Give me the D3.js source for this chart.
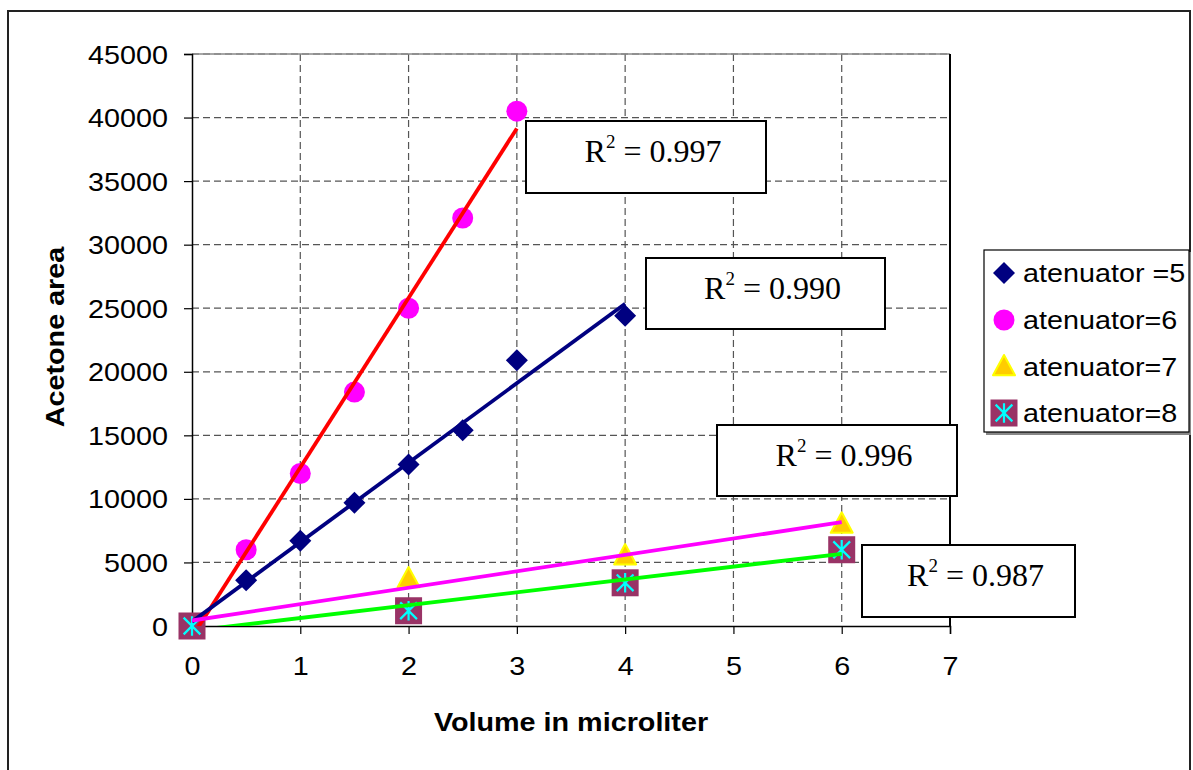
<!DOCTYPE html>
<html>
<head>
<meta charset="utf-8">
<script src="https://cdn.jsdelivr.net/npm/d3@7"></script>
<style>
  html, body { margin: 0; padding: 0; background: #fff; }
  svg { display: block; }
  .sans { font-family: "Liberation Sans", Arial, sans-serif; }
  .serif { font-family: "Liberation Serif", "Times New Roman", serif; }
</style>
</head>
<body>
<svg id="chart" width="1193" height="770"></svg>
<script>
// Calibration runs: acetone peak area vs injected volume, per attenuator setting
const xTicks = [0, 1, 2, 3, 4, 5, 6, 7];
const yTicks = [0, 5000, 10000, 15000, 20000, 25000, 30000, 35000, 40000, 45000];

const att5X = [0, 0.5, 1, 1.5, 2, 2.5, 3, 4];
const att5Y = [0, 3600, 6700, 9700, 12700, 15400, 20900, 24400];

const att6X = [0, 0.5, 1, 1.5, 2, 2.5, 3];
const att6Y = [0, 6000, 12000, 18400, 25000, 32100, 40500];

const att7X = [0, 2, 4, 6];
const att7Y = [0, 3700, 5500, 8000];

const att8X = [0, 2, 4, 6];
const att8Y = [0, 1200, 3400, 6000];

const seriesNames = ["atenuator =5", "atenuator=6", "atenuator=7", "atenuator=8"];
const rSquaredLabels = ["0.990", "0.997", "0.996", "0.987"];

// the sans-serif labels are set slightly wide
const WIDE = 1.15;

const svg = d3.select("#chart");

// outer chart frame
svg.append("rect")
  .attr("x", 8).attr("y", 11).attr("width", 1182).attr("height", 780)
  .attr("fill", "none").attr("stroke", "#222").attr("stroke-width", 2);

const plot = { left: 192, right: 950, top: 54, bottom: 626 };
const x = d3.scaleLinear().domain([0, 7]).range([plot.left, plot.right]);
const y = d3.scaleLinear().domain([0, 45000]).range([plot.bottom, plot.top]);

// dashed grid
const grid = svg.append("g");
grid.selectAll("line.h").data(yTicks.filter(d => d > 0)).join("line")
  .attr("x1", plot.left).attr("x2", plot.right)
  .attr("y1", d => y(d)).attr("y2", d => y(d))
  .attr("stroke", "#555").attr("stroke-width", 1.2).attr("stroke-dasharray", "7,4");
grid.selectAll("line.v").data(xTicks.filter(d => d > 0 && d < 7)).join("line")
  .attr("x1", d => x(d)).attr("x2", d => x(d))
  .attr("y1", plot.top).attr("y2", plot.bottom)
  .attr("stroke", "#555").attr("stroke-width", 1.2).attr("stroke-dasharray", "7,4");

// plot area border (top grey, right black)
svg.append("line").attr("x1", plot.left).attr("x2", plot.right)
  .attr("y1", plot.top).attr("y2", plot.top)
  .attr("stroke", "#888").attr("stroke-width", 1.5);
svg.append("line").attr("x1", plot.right).attr("x2", plot.right)
  .attr("y1", plot.top).attr("y2", plot.bottom)
  .attr("stroke", "#000").attr("stroke-width", 2);

// axes
const yAxis = d3.axisLeft(y).tickValues(yTicks).tickSize(8).tickPadding(14).tickFormat(d3.format("d"));
const xAxis = d3.axisBottom(x).tickValues(xTicks).tickSize(8).tickPadding(14).tickFormat(d3.format("d"));

const gy = svg.append("g").attr("transform", `translate(${plot.left},0)`).call(yAxis);
const gx = svg.append("g").attr("transform", `translate(0,${plot.bottom})`).call(xAxis);
[gx, gy].forEach(g => {
  g.select(".domain").attr("stroke", "#000").attr("stroke-width", 1.5);
  g.selectAll(".tick line").attr("stroke", "#000").attr("stroke-width", 1.2);
  g.selectAll(".tick text").attr("class", "sans").attr("font-size", 25).attr("fill", "#000")
    .attr("transform", `scale(${WIDE},1)`);
});
gy.selectAll(".tick text").attr("x", -24 / WIDE).attr("dy", "0.36em");
gx.selectAll(".tick text").attr("dy", "1.1em");

// axis titles
svg.append("text").attr("class", "sans")
  .attr("transform", `translate(571,731) scale(${WIDE},1)`).attr("text-anchor", "middle")
  .attr("font-size", 25).attr("font-weight", "bold").text("Volume in microliter");
svg.append("text").attr("class", "sans")
  .attr("transform", `translate(64,337) rotate(-90) scale(${WIDE},1)`).attr("text-anchor", "middle")
  .attr("font-size", 25).attr("font-weight", "bold").text("Acetone area");

// marker drawing helpers
const diamond = (g, cx, cy, s) => g.append("path")
  .attr("d", `M${cx},${cy - s}L${cx + s},${cy}L${cx},${cy + s}L${cx - s},${cy}Z`)
  .attr("fill", "#000080");
const circle = (g, cx, cy, r) => g.append("circle")
  .attr("cx", cx).attr("cy", cy).attr("r", r).attr("fill", "#FF00FF");
const triangle = (g, cx, cy, s) => g.append("path")
  .attr("d", `M${cx},${cy - s}L${cx + s},${cy + s * 0.85}L${cx - s},${cy + s * 0.85}Z`)
  .attr("fill", "#FFCC00").attr("stroke", "#FFFF00").attr("stroke-width", 2).attr("stroke-linejoin", "round");
const starSquare = (g, cx, cy, h) => {
  g.append("rect").attr("x", cx - h).attr("y", cy - h).attr("width", 2 * h).attr("height", 2 * h)
    .attr("fill", "#993366");
  const a = h * 0.72, b = h * 0.62;
  g.append("path")
    .attr("d", `M${cx},${cy - a}L${cx},${cy + a}M${cx - b},${cy - b}L${cx + b},${cy + b}M${cx + b},${cy - b}L${cx - b},${cy + b}`)
    .attr("stroke", "#00FFFF").attr("stroke-width", 2.2).attr("fill", "none");
};

// markers, in series order
const marks = svg.append("g");
att5X.forEach((d, i) => diamond(marks, x(d), y(att5Y[i]), 11));
att6X.forEach((d, i) => circle(marks, x(d), y(att6Y[i]), 10.5));
att7X.forEach((d, i) => triangle(marks, x(d), y(att7Y[i]) - 1, 11));
att8X.forEach((d, i) => starSquare(marks, x(d), y(att8Y[i]), 13.5));

// least-squares trendlines, clipped to the plot area
svg.append("clipPath").attr("id", "plotClip").append("rect")
  .attr("x", plot.left).attr("y", plot.top)
  .attr("width", plot.right - plot.left).attr("height", plot.bottom - plot.top);

function fit(xs, ys) {
  const n = xs.length;
  const mx = d3.mean(xs), my = d3.mean(ys);
  let sxy = 0, sxx = 0;
  for (let i = 0; i < n; i++) { sxy += (xs[i] - mx) * (ys[i] - my); sxx += (xs[i] - mx) ** 2; }
  const slope = sxy / sxx;
  return { slope, intercept: my - slope * mx };
}
const trends = [
  { xs: att6X, ys: att6Y, color: "#FF0000" },
  { xs: att5X, ys: att5Y, color: "#000080" },
  { xs: att7X, ys: att7Y, color: "#FF00FF" },
  { xs: att8X, ys: att8Y, color: "#00FF00" }
];
const tg = svg.append("g").attr("clip-path", "url(#plotClip)");
trends.forEach(t => {
  const f = fit(t.xs, t.ys);
  const x0 = d3.min(t.xs), x1 = d3.max(t.xs);
  tg.append("line")
    .attr("x1", x(x0)).attr("y1", y(f.intercept + f.slope * x0))
    .attr("x2", x(x1)).attr("y2", y(f.intercept + f.slope * x1))
    .attr("stroke", t.color).attr("stroke-width", 3.8);
});

// R² label boxes
const rBoxes = [
  { label: rSquaredLabels[1], x: 526, y: 121, w: 240, h: 72 },
  { label: rSquaredLabels[0], x: 646, y: 258, w: 239, h: 71 },
  { label: rSquaredLabels[2], x: 717, y: 425, w: 240, h: 71 },
  { label: rSquaredLabels[3], x: 862, y: 545, w: 213, h: 72 }
];
rBoxes.forEach(b => {
  svg.append("rect").attr("x", b.x).attr("y", b.y).attr("width", b.w).attr("height", b.h)
    .attr("fill", "#fff").attr("stroke", "#000").attr("stroke-width", 2);
  const t = svg.append("text").attr("class", "serif")
    .attr("x", b.x + b.w / 2 + 7).attr("y", b.y + 41).attr("text-anchor", "middle")
    .attr("font-size", 32).attr("fill", "#000");
  t.append("tspan").text("R");
  t.append("tspan").attr("font-size", 19).attr("dy", -14).text("2");
  t.append("tspan").attr("dy", 14).text(" = " + b.label);
});

// legend
const lg = svg.append("g");
lg.append("rect").attr("x", 986).attr("y", 252).attr("width", 205).attr("height", 183).attr("fill", "#888");
lg.append("rect").attr("x", 984).attr("y", 250).attr("width", 205).attr("height", 182)
  .attr("fill", "#fff").attr("stroke", "#000").attr("stroke-width", 1.2);
const rowY = [273, 320, 367, 413];
diamond(lg, 1004, rowY[0], 11);
circle(lg, 1004, rowY[1], 10.5);
triangle(lg, 1004, rowY[2] - 1, 11);
starSquare(lg, 1004, rowY[3], 13.5);
seriesNames.forEach((name, i) => {
  lg.append("text").attr("class", "sans")
    .attr("transform", `translate(1023,${rowY[i] + 9}) scale(${WIDE},1)`)
    .attr("font-size", 25).attr("fill", "#000").text(name);
});
</script>
</body>
</html>
